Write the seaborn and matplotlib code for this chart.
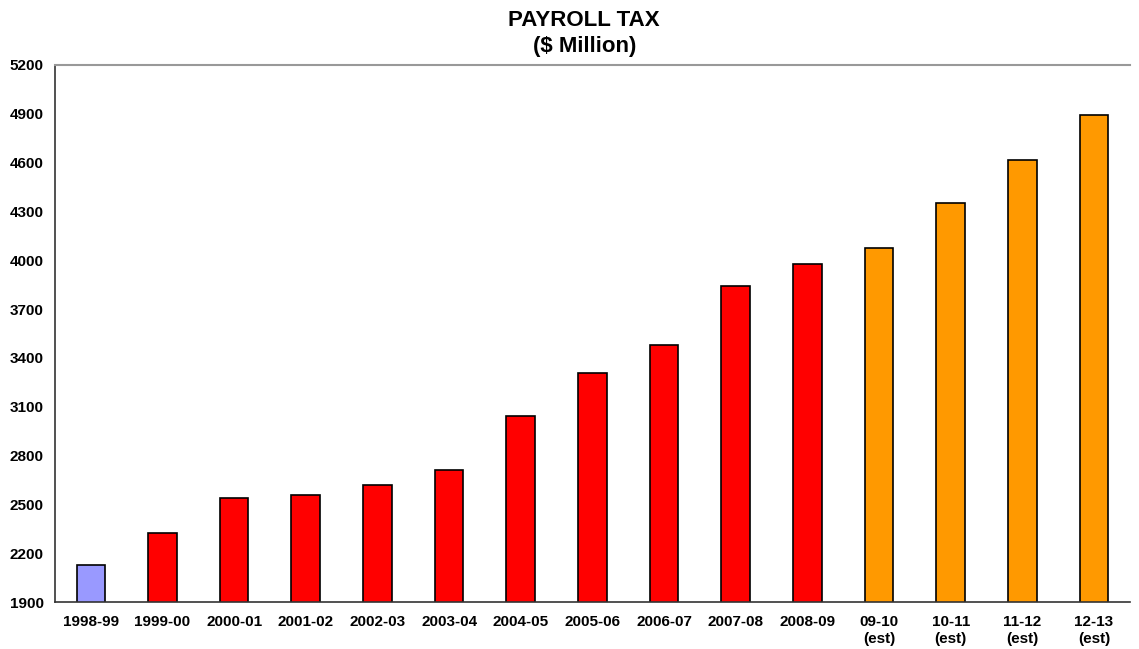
import matplotlib
matplotlib.use("Agg")
import matplotlib.pyplot as plt
import seaborn as sns
import pandas as pd

# data
years = ["1998-99", "1999-00", "2000-01", "2001-02", "2002-03", "2003-04", "2004-05",
         "2005-06", "2006-07", "2007-08", "2008-09", "09-10\n(est)", "10-11\n(est)",
         "11-12\n(est)", "12-13\n(est)"]
payroll = [2125, 2325, 2540, 2558, 2620, 2712, 3045, 3307, 3478, 3842, 3975, 4072, 4352, 4615, 4893]
kind = ["base"] + ["actual"] * 10 + ["est"] * 4

colours = {"base": "#9999FF", "actual": "#FF0000", "est": "#FF9900"}

df = pd.DataFrame({"year": years, "value": payroll, "kind": kind})

sns.set_style("white")
plt.rcParams["font.family"] = ["Liberation Sans", "DejaVu Sans"]
plt.rcParams["text.color"] = "black"
plt.rcParams["xtick.color"] = "black"
plt.rcParams["ytick.color"] = "black"

fig = plt.figure(figsize=(11.39, 6.49), dpi=100)
ax = fig.add_axes([0.0483, 0.0724, 0.9437, 0.8276])

sns.barplot(data=df, x="year", y="value", hue="kind", palette=colours, dodge=False,
            saturation=1, width=0.4, edgecolor="black", linewidth=1.2, legend=False, ax=ax)

ax.set_ylim(1900, 5200)
ax.set_yticks(range(1900, 5201, 300))
ax.set_xlim(-0.5, len(years) - 0.5)
ax.set_xlabel("")
ax.set_ylabel("")

# x ticks sit on category boundaries, labels between
ax.set_xticks([i - 0.5 for i in range(len(years) + 1)], minor=False)
ax.set_xticklabels([])
ax.set_xticks(range(len(years)), minor=True)
ax.set_xticklabels(years, minor=True, fontsize=11, fontweight="bold", linespacing=1.35)
ax.tick_params(axis="x", which="minor", length=0, pad=9)
ax.tick_params(axis="x", which="major", direction="out", length=5, width=1, color="#333333")
ax.tick_params(axis="y", direction="out", length=5, width=1, color="#333333", labelsize=11, pad=3)
for lab in ax.get_yticklabels():
    lab.set_fontweight("bold")

for side in ["left", "bottom"]:
    ax.spines[side].set_color("#333333")
    ax.spines[side].set_linewidth(1.2)
ax.spines["right"].set_visible(False)
ax.spines["top"].set_color("#999999")
ax.spines["top"].set_linewidth(1.5)

fig.text(0.513, 0.985, "PAYROLL TAX\n($ Million)", ha="center", va="top",
         fontsize=16, fontweight="bold", linespacing=1.35)

fig.savefig("out.png", dpi=100)
